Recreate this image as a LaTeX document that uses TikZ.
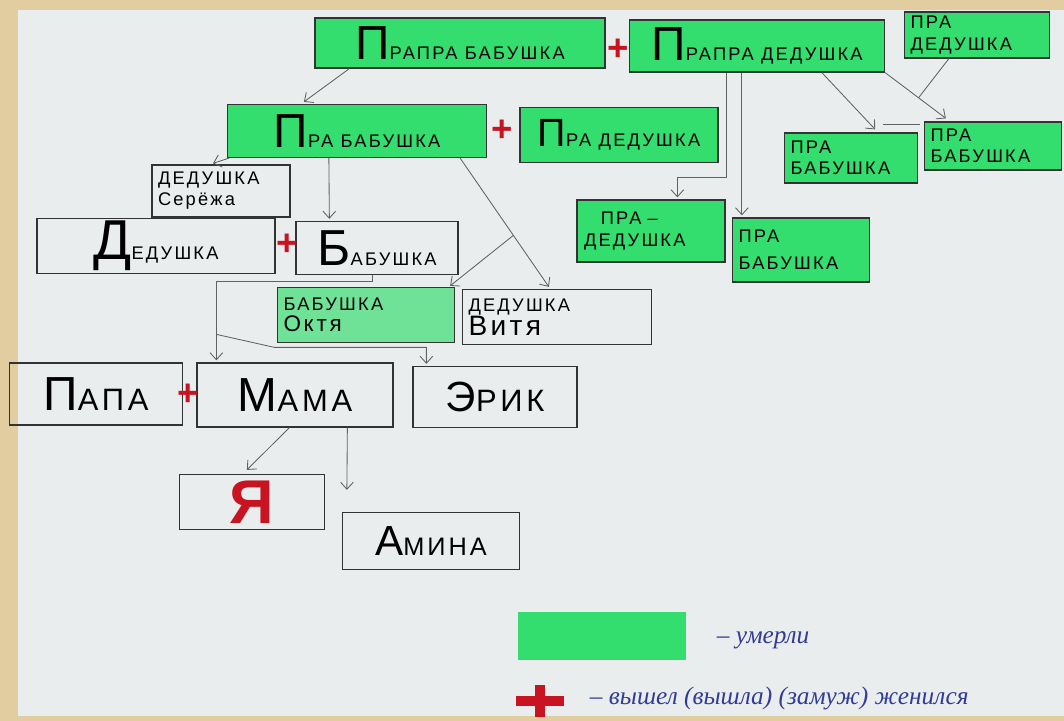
\documentclass[tikz,border=0pt]{standalone}
\usepackage{fontspec}
\setmainfont{Liberation Sans}
\newfontfamily\handfont[LetterSpace=12]{Liberation Sans}
\newfontfamily\penfont{Liberation Serif}
\usetikzlibrary{arrows.meta,calc}
\definecolor{marker}{RGB}{52,222,110}
\definecolor{markerpale}{RGB}{112,226,152}
\definecolor{inkline}{gray}{0.2}
\definecolor{pencil}{gray}{0.38}
\definecolor{plusred}{RGB}{200,20,32}
\definecolor{penblue}{RGB}{50,60,150}
\definecolor{paper}{RGB}{234,237,237}
\definecolor{tabletop}{RGB}{226,205,160}
\newcommand\px{0.025cm}
\newcommand\initl[3][34]{{\fontsize{#1}{#1}\selectfont #2}#3}
\tikzset{
  box/.style={draw=inkline,line width=0.9pt,inner sep=2pt,font=\handfont\fontsize{13}{15}\selectfont},
  dead/.style={box,fill=marker},
  alive/.style={box},
  sz/.style 2 args={minimum width=#1*\px,minimum height=#2*\px},
  tw/.style={align=left,text width=#1*\px},
  link/.style={draw=pencil,line width=0.6pt,-{Straight Barb[length=5pt,width=9pt]}},
  joint/.style={draw=pencil,line width=0.6pt},
  wed/.style={text=plusred,font=\bfseries\fontsize{26}{26}\selectfont,inner sep=0pt},
  bigcross/.style={inner sep=0pt,path picture={
    \fill[plusred] ([yshift=-3.5pt]path picture bounding box.west) rectangle ([yshift=3.5pt]path picture bounding box.east);
    \fill[plusred] ([xshift=-3.5pt]path picture bounding box.north) rectangle ([xshift=3.5pt]path picture bounding box.south);}},
  note/.style={text=penblue,font=\penfont\itshape\fontsize{18}{20}\selectfont,anchor=west},
}

\begin{document}
\begin{tikzpicture}[x=\px,y=-\px]
  \fill[tabletop] (0,0) rectangle (1064,721);
  \fill[paper] (18,10) rectangle (1064,716);
  \useasboundingbox (0,0) rectangle (1064,721);

  \node[dead,sz={290}{50}] (ppb) at (460,43) {\initl{П}{РАПРА БАБУШКА}};
  \node[dead,sz={255}{52}] (ppd) at (757,46) {\initl{П}{РАПРА ДЕДУШКА}};
  \node[dead,sz={145}{46},tw=133] (pd1) at (977,35) {ПРА\\ДЕДУШКА};
  \node[wed] (w1) at (618,50) {+};

  \node[dead,sz={259}{53}] (pb1) at (357,131) {\initl{П}{РА БАБУШКА}};
  \node[dead,sz={198}{55}] (pd2) at (619,135) {\initl[28]{П}{РА ДЕДУШКА}};
  \node[wed] (w2) at (502,131) {+};
  \node[dead,sz={133}{50},tw=121] (pb2) at (851,158) {ПРА\\БАБУШКА};
  \node[dead,sz={137}{48},tw=125] (pb3) at (993,146) {ПРА\\БАБУШКА};

  \node[alive,sz={138}{52},tw=126] (ds) at (221,191) {ДЕДУШКА\\Серёжа};
  \node[dead,sz={148}{62},tw=134] (pd3) at (651,231) {\hspace*{12pt}ПРА –\\ДЕДУШКА};
  \node[dead,sz={137}{64},tw=125] (pb4) at (801,250) {ПРА\\[4pt]БАБУШКА};

  \node[alive,sz={238}{52}] (ded) at (156,246) {\initl[40]{Д}{ЕДУШКА}};
  \node[alive,sz={162}{53}] (bab) at (377,248) {\initl[36]{Б}{АБУШКА}};
  \node[wed] (w3) at (287,245) {+};
  \node[dead,fill=markerpale,sz={177}{55},tw=165] (bo) at (366,315) {БАБУШКА\\{\fontsize{16}{18}\selectfont Октя}};
  \node[alive,sz={189}{55},tw=177] (dv) at (557,317) {ДЕДУШКА\\{\fontsize{20}{22}\selectfont Витя}};

  \node[alive,sz={173}{62}] (papa) at (96,394) {\fontsize{22}{22}\selectfont\initl{П}{АПА}};
  \node[alive,sz={196}{64}] (mama) at (295,395) {\fontsize{22}{22}\selectfont\initl{М}{АМА}};
  \node[wed] (w4) at (188,395) {+};
  \node[alive,sz={164}{61}] (erik) at (495,397) {\fontsize{22}{22}\selectfont\initl[30]{Э}{РИК}};

  \node[alive,sz={145}{55},text=plusred,font=\bfseries\fontsize{44}{44}\selectfont] (ya) at (252,502) {Я};
  \node[alive,sz={177}{57}] (amina) at (431,541) {\fontsize{18}{18}\selectfont\initl[30]{А}{МИНА}};

  \node[fill=marker,sz={168}{48}] (key) at (602,636) {};
  \node[note] (keyt) at (712,640) {– умерли};
  \node[bigcross,sz={48}{32}] (keyp) at (540,701) {};
  \node[note] (keypt) at (585,698) {– вышел (вышла) (замуж) женился};

  \draw[link] ($(ppb.south west)+(35,0)$) -- ($(pb1.north west)+(77,-2)$);
  \draw[link] ($(ppd.south west)+(98,0)$) -- ++(0,105) -| ($(pd3.north west)+(101,-2)$);
  \draw[link] ($(ppd.south west)+(113,0)$) -- ($(pb4.north west)+(10,-2)$);
  \draw[link] ($(ppd.south west)+(193,0)$) -- ($(pb2.north east)+(-43,-3)$);
  \draw[link] (ppd.south east) -- coordinate[pos=0.55] (j1) ($(pb3.north west)+(22,-3)$);
  \draw[joint] ($(pd1.south west)+(45,0)$) -- (j1);
  \draw[joint] ($(pb2.north east)+(-35,-8)$) -- ++(37,0);

  \draw[link] ($(pb1.south west)+(2,0)$) -- ($(ds.north)+(-8,-1)$);
  \draw[link] ($(pb1.south west)+(102,0)$) -- ($(bab.north west)+(34,-2)$);
  \draw[link] ($(pb1.south east)+(-27,0)$) -- coordinate[pos=0.6] (j2) ($(dv.north west)+(87,-2)$);
  \draw[link] (j2) -- ($(bo.north east)+(-5,-1)$);

  \draw[link] ($(bab.south west)+(77,0)$) -- ++(0,6) -| ($(mama.north west)+(20,-2)$);
  \coordinate (j3) at ($(mama.north west)+(20,-28)$);
  \draw[link] (j3) -- ++(58,13) -| ($(erik.north west)+(14,-2)$);

  \draw[link] ($(mama.south west)+(93,0)$) -- ($(ya.north west)+(68,-4)$);
  \draw[link] ($(mama.south west)+(151,0)$) -- ($(amina.north west)+(5,-22)$);
\end{tikzpicture}
\end{document}
